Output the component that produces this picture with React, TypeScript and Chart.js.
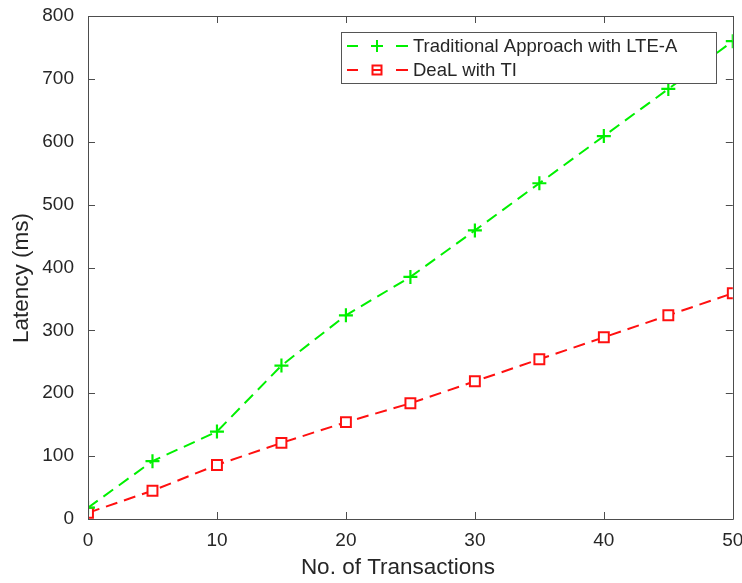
import React, { useEffect, useRef } from "react";
import { Chart, registerables } from "chart.js";

Chart.register(...registerables);

const transactions = [0, 5, 10, 15, 20, 25, 30, 35, 40, 45, 50];
const traditional = [18, 92, 139, 244, 324, 385, 459, 534, 609, 684, 760];
const deal = [10, 45, 86, 121, 154, 184, 219, 254, 289, 324, 359];
const seriesNames = ["Traditional Approach with LTE-A", "DeaL with TI"];
const xTicks = [0, 10, 20, 30, 40, 50];
const yTicks = [0, 100, 200, 300, 400, 500, 600, 700, 800];
const xTitle = "No. of Transactions";
const yTitle = "Latency (ms)";

const FONT = "'Liberation Sans', Arial, sans-serif";
const AXIS = "#4d4d4d";
const TXT = "#262626";
const GREEN = "#00f000";
const RED = "#ff1010";

const boxPlugin = {
  id: "boxTicks",
  afterDraw(chart: any) {
    const { ctx, chartArea: a, scales } = chart;
    const x = scales.x;
    const y = scales.y;
    ctx.save();
    ctx.strokeStyle = AXIS;
    ctx.lineWidth = 1;
    ctx.beginPath();
    ctx.rect(Math.round(a.left) + 0.5, Math.round(a.top) + 0.5, Math.round(a.right - a.left), Math.round(a.bottom - a.top));
    ctx.stroke();
    const t = 7;
    ctx.beginPath();
    xTicks.forEach((v) => {
      const px = Math.round(x.getPixelForValue(v)) + 0.5;
      ctx.moveTo(px, a.bottom);
      ctx.lineTo(px, a.bottom - t);
      ctx.moveTo(px, a.top);
      ctx.lineTo(px, a.top + t);
    });
    yTicks.forEach((v) => {
      const py = Math.round(y.getPixelForValue(v)) + 0.5;
      ctx.moveTo(a.left, py);
      ctx.lineTo(a.left + t, py);
      ctx.moveTo(a.right, py);
      ctx.lineTo(a.right - t, py);
    });
    ctx.stroke();

    // axis titles
    ctx.fillStyle = TXT;
    ctx.font = `22.5px ${FONT}`;
    ctx.textAlign = "center";
    ctx.textBaseline = "middle";
    ctx.fillText(xTitle, 398, 568);
    ctx.save();
    ctx.translate(22, 278);
    ctx.rotate(-Math.PI / 2);
    ctx.fillText(yTitle, 0, 0);
    ctx.restore();

    // legend
    const lx = 341, ly = 32, lw = 375, lh = 51;
    ctx.fillStyle = "#ffffff";
    ctx.fillRect(lx, ly, lw, lh);
    ctx.strokeStyle = "#555555";
    ctx.strokeRect(lx + 0.5, ly + 0.5, lw, lh);
    const ds = chart.data.datasets;
    ds.forEach((d: any, i: number) => {
      const cy = ly + 14 + i * 24;
      ctx.strokeStyle = d.borderColor;
      ctx.lineWidth = 2;
      ctx.beginPath();
      ctx.moveTo(347, cy);
      ctx.lineTo(358, cy);
      ctx.moveTo(396, cy);
      ctx.lineTo(408, cy);
      ctx.stroke();
      const cx = 377;
      ctx.beginPath();
      if (d.pointStyle === "cross") {
        ctx.moveTo(cx - 6, cy);
        ctx.lineTo(cx + 6, cy);
        ctx.moveTo(cx, cy - 6);
        ctx.lineTo(cx, cy + 6);
        ctx.stroke();
      } else {
        ctx.rect(cx - 4.5, cy - 4.5, 9, 9);
        ctx.moveTo(cx - 4.5, cy);
        ctx.lineTo(cx + 4.5, cy);
        ctx.stroke();
      }
      ctx.fillStyle = TXT;
      ctx.font = `18.5px ${FONT}`;
      ctx.textBaseline = "middle";
      ctx.textAlign = "left";
      ctx.fillText(seriesNames[i], 413, cy + 1);
    });
    ctx.restore();
  },
};

export default function App() {
  const ref = useRef<HTMLCanvasElement>(null);
  useEffect(() => {
    document.body.style.margin = "0";
    const chart = new Chart(ref.current!, {
      type: "line",
      data: {
        labels: transactions,
        datasets: [
          {
            label: seriesNames[0],
            data: transactions.map((t, i) => ({ x: t, y: traditional[i] })),
            borderColor: GREEN,
            backgroundColor: GREEN,
            borderWidth: 2,
            borderDash: [12, 7],
            pointStyle: "cross",
            pointRadius: 7,
            pointBorderWidth: 2.2,
            pointBorderColor: GREEN,
            fill: false,
            tension: 0,
          },
          {
            label: seriesNames[1],
            data: transactions.map((t, i) => ({ x: t, y: deal[i] })),
            borderColor: RED,
            backgroundColor: "#ffffff",
            borderWidth: 2,
            borderDash: [12, 7],
            pointStyle: "rect",
            pointRadius: 7,
            pointBorderWidth: 2,
            pointBorderColor: RED,
            pointBackgroundColor: "#ffffff",
            fill: false,
            tension: 0,
          },
        ],
      },
      options: {
        animation: false,
        responsive: false,
        layout: { padding: { top: 16, right: 9, left: 0, bottom: 0 } },
        plugins: { legend: { display: false }, tooltip: { enabled: false } },
        scales: {
          x: {
            type: "linear",
            min: 0,
            max: 50,
            afterFit: (s: any) => { s.height = 64; s.paddingLeft = 0; s.paddingRight = 0; },
            afterBuildTicks: (s: any) => { s.ticks = xTicks.map((v) => ({ value: v })); },
            grid: { display: false, drawTicks: false },
            border: { display: false },
            ticks: { color: TXT, font: { family: FONT, size: 19 }, padding: 10, maxRotation: 0 },
            title: { display: false },
          },
          y: {
            type: "linear",
            min: 0,
            max: 800,
            afterFit: (s: any) => { s.width = 88; s.paddingTop = 0; s.paddingBottom = 0; },
            afterBuildTicks: (s: any) => { s.ticks = yTicks.map((v) => ({ value: v })); },
            grid: { display: false, drawTicks: false },
            border: { display: false },
            ticks: { color: TXT, font: { family: FONT, size: 19 }, padding: 14 },
            title: { display: false },
          },
        },
      },
      plugins: [boxPlugin],
    });
    return () => chart.destroy();
  }, []);
  return <canvas ref={ref} width={742} height={583} style={{ display: "block" }} />;
}
